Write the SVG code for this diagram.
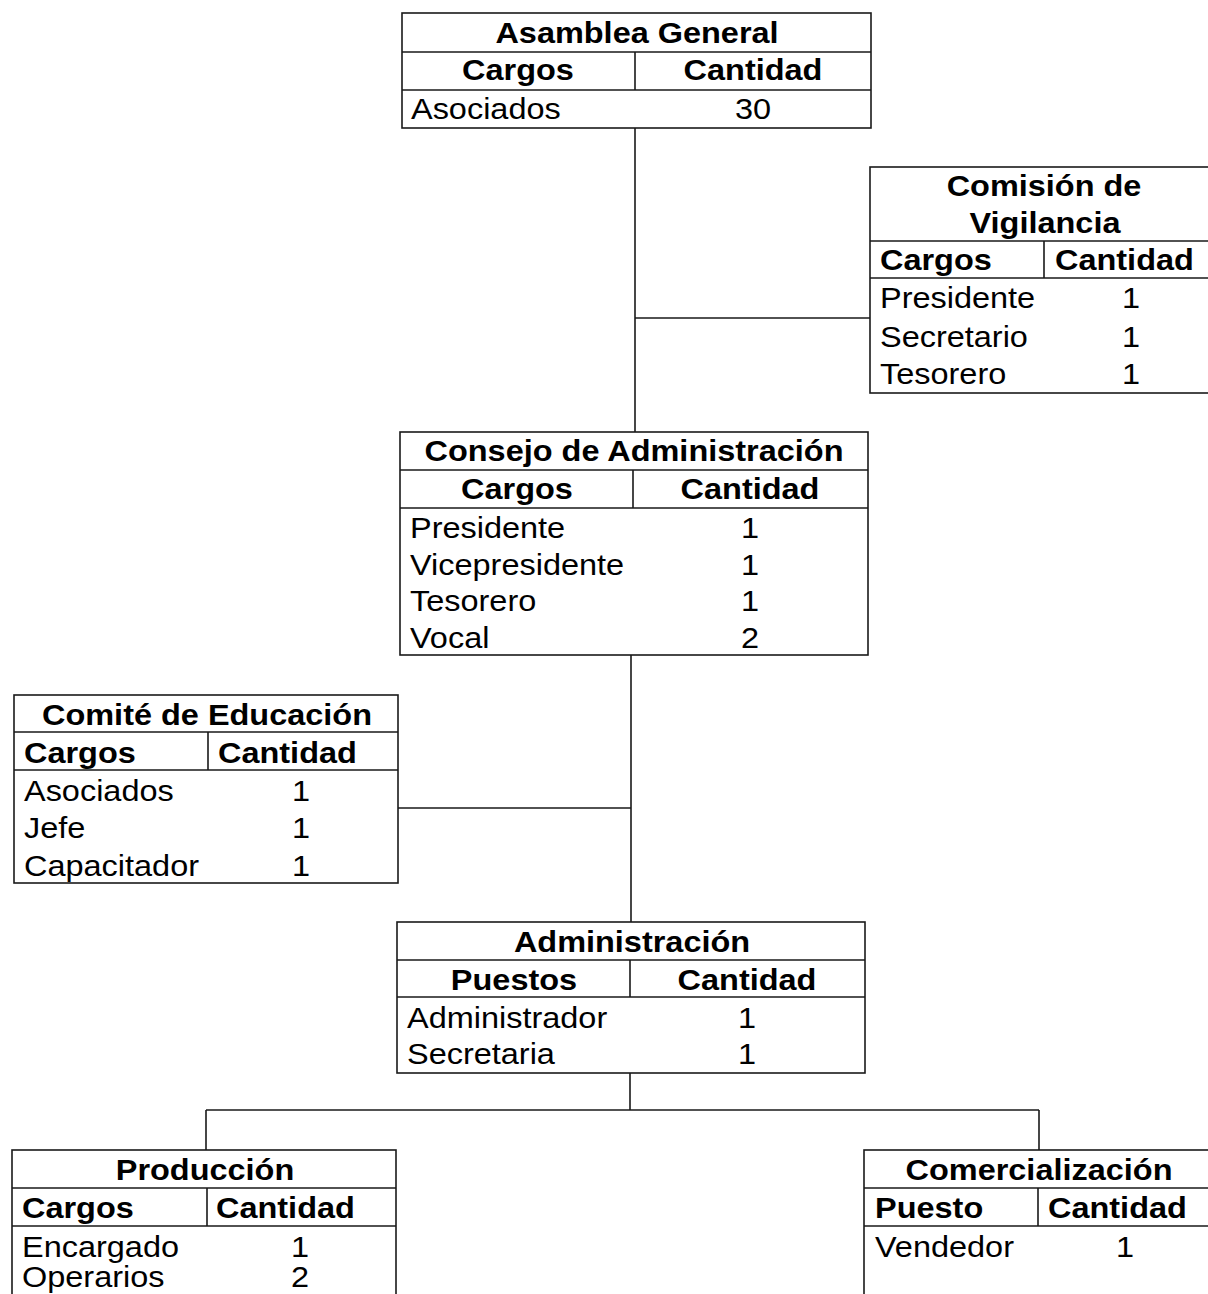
<svg xmlns="http://www.w3.org/2000/svg" width="1208" height="1294" viewBox="0 0 1208 1294">
<style>
.box{fill:#fff;stroke:#1a1a1a;stroke-width:1.6}
.ln{stroke:#1a1a1a;stroke-width:1.6;fill:none}
text{font-family:"Liberation Sans",Arial,sans-serif;font-size:29px;fill:#000}
.b{font-weight:bold}
.m{text-anchor:middle}
</style>
<rect x="0" y="0" width="1208" height="1294" fill="#fff"/>
<g id="connectors">
<path class="ln" d="M635 128V432M635 318H870M631 655V922M398 808H631M630 1073V1110M206 1110H1039M206 1110V1150M1039 1110V1150"/>
</g>
<g id="asamblea-general">
<rect class="box" x="402" y="13" width="469" height="115"/>
<path class="ln" d="M402 52H871M402 90H871M635 52V90"/>
<text class="b m" transform="translate(637 43) scale(1.12 1)">Asamblea General</text>
<text class="b m" transform="translate(518 80) scale(1.12 1)">Cargos</text>
<text class="b m" transform="translate(753 80) scale(1.12 1)">Cantidad</text>
<text transform="translate(411 119) scale(1.12 1)">Asociados</text>
<text class="m" transform="translate(753 119) scale(1.12 1)">30</text>
</g>
<g id="comision-vigilancia">
<rect class="box" x="870" y="167" width="345" height="226"/>
<path class="ln" d="M870 241H1215M870 278H1215M1044 241V278"/>
<text class="b m" transform="translate(1044 196) scale(1.12 1)">Comisión de</text>
<text class="b m" transform="translate(1045 233) scale(1.12 1)">Vigilancia</text>
<text class="b" transform="translate(880 270) scale(1.12 1)">Cargos</text>
<text class="b" transform="translate(1055 270) scale(1.12 1)">Cantidad</text>
<text transform="translate(880 308) scale(1.12 1)">Presidente</text>
<text transform="translate(880 347) scale(1.12 1)">Secretario</text>
<text transform="translate(880 384) scale(1.12 1)">Tesorero</text>
<text class="m" transform="translate(1131 308) scale(1.12 1)">1</text>
<text class="m" transform="translate(1131 347) scale(1.12 1)">1</text>
<text class="m" transform="translate(1131 384) scale(1.12 1)">1</text>
</g>
<g id="consejo-administracion">
<rect class="box" x="400" y="432" width="468" height="223"/>
<path class="ln" d="M400 470H868M400 508H868M633 470V508"/>
<text class="b m" transform="translate(634 461) scale(1.12 1)">Consejo de Administración</text>
<text class="b m" transform="translate(517 499) scale(1.12 1)">Cargos</text>
<text class="b m" transform="translate(750 499) scale(1.12 1)">Cantidad</text>
<text transform="translate(410 538) scale(1.12 1)">Presidente</text>
<text transform="translate(410 575) scale(1.12 1)">Vicepresidente</text>
<text transform="translate(410 611) scale(1.12 1)">Tesorero</text>
<text transform="translate(410 648) scale(1.12 1)">Vocal</text>
<text class="m" transform="translate(750 538) scale(1.12 1)">1</text>
<text class="m" transform="translate(750 575) scale(1.12 1)">1</text>
<text class="m" transform="translate(750 611) scale(1.12 1)">1</text>
<text class="m" transform="translate(750 648) scale(1.12 1)">2</text>
</g>
<g id="comite-educacion">
<rect class="box" x="14" y="695" width="384" height="188"/>
<path class="ln" d="M14 732H398M14 770H398M208 732V770"/>
<text class="b m" transform="translate(207 725) scale(1.12 1)">Comité de Educación</text>
<text class="b" transform="translate(24 763) scale(1.12 1)">Cargos</text>
<text class="b" transform="translate(218 763) scale(1.12 1)">Cantidad</text>
<text transform="translate(24 801) scale(1.12 1)">Asociados</text>
<text transform="translate(24 838) scale(1.12 1)">Jefe</text>
<text transform="translate(24 876) scale(1.12 1)">Capacitador</text>
<text class="m" transform="translate(301 801) scale(1.12 1)">1</text>
<text class="m" transform="translate(301 838) scale(1.12 1)">1</text>
<text class="m" transform="translate(301 876) scale(1.12 1)">1</text>
</g>
<g id="administracion">
<rect class="box" x="397" y="922" width="468" height="151"/>
<path class="ln" d="M397 960H865M397 997H865M630 960V997"/>
<text class="b m" transform="translate(632 952) scale(1.12 1)">Administración</text>
<text class="b m" transform="translate(514 990) scale(1.12 1)">Puestos</text>
<text class="b m" transform="translate(747 990) scale(1.12 1)">Cantidad</text>
<text transform="translate(407 1028) scale(1.12 1)">Administrador</text>
<text transform="translate(407 1064) scale(1.12 1)">Secretaria</text>
<text class="m" transform="translate(747 1028) scale(1.12 1)">1</text>
<text class="m" transform="translate(747 1064) scale(1.12 1)">1</text>
</g>
<g id="produccion">
<rect class="box" x="12" y="1150" width="384" height="170"/>
<path class="ln" d="M12 1188H396M12 1226H396M207 1188V1226"/>
<text class="b m" transform="translate(205 1180) scale(1.12 1)">Producción</text>
<text class="b" transform="translate(22 1218) scale(1.12 1)">Cargos</text>
<text class="b" transform="translate(216 1218) scale(1.12 1)">Cantidad</text>
<text transform="translate(22 1257) scale(1.12 1)">Encargado</text>
<text transform="translate(22 1287) scale(1.12 1)">Operarios</text>
<text class="m" transform="translate(300 1257) scale(1.12 1)">1</text>
<text class="m" transform="translate(300 1287) scale(1.12 1)">2</text>
</g>
<g id="comercializacion">
<rect class="box" x="864" y="1150" width="360" height="170"/>
<path class="ln" d="M864 1188H1224M864 1226H1224M1038 1188V1226"/>
<text class="b m" transform="translate(1039 1180) scale(1.12 1)">Comercialización</text>
<text class="b" transform="translate(875 1218) scale(1.12 1)">Puesto</text>
<text class="b" transform="translate(1048 1218) scale(1.12 1)">Cantidad</text>
<text transform="translate(875 1257) scale(1.12 1)">Vendedor</text>
<text class="m" transform="translate(1125 1257) scale(1.12 1)">1</text>
</g>
</svg>
